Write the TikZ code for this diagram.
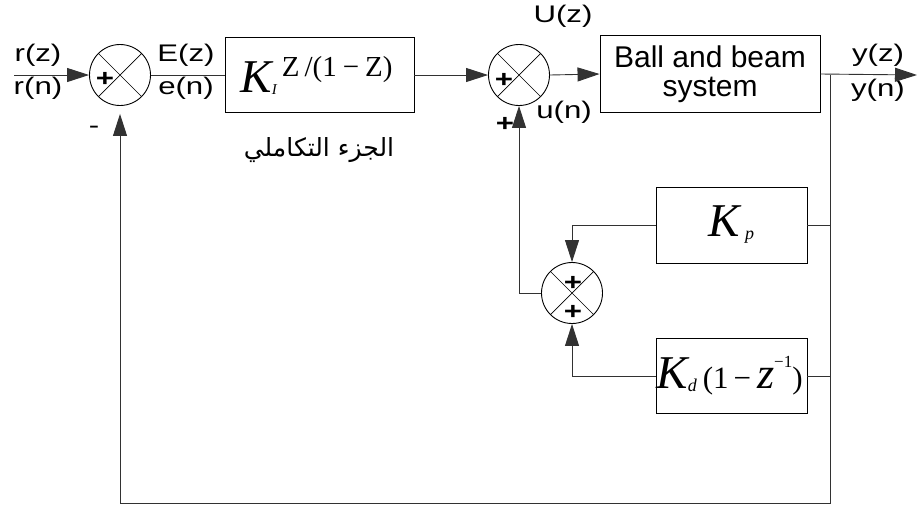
\documentclass[tikz,border=0pt]{standalone}
\usepackage{fontspec}
\setmainfont{Liberation Sans}
\newfontfamily\widefont[FakeStretch=1.3]{Liberation Sans}
\newfontfamily\timesfont{Liberation Serif}
\newfontfamily\arabicfont[Script=Arabic]{DejaVu Sans}
\TeXXeTstate=1
\usetikzlibrary{arrows.meta,positioning}
\definecolor{wiregray}{RGB}{50,50,50}
\newcommand{\bigsym}[2]{{\timesfont\fontsize{#1}{#1}\selectfont #2}}

\begin{document}
\begin{tikzpicture}[
    x=1pt,y=-1pt,
    line width=0.9pt,
    sumnode/.style={circle,draw,minimum size=61pt,inner sep=0pt,
      path picture={\draw[line width=0.7pt]
        (path picture bounding box.north west) -- (path picture bounding box.south east)
        (path picture bounding box.north east) -- (path picture bounding box.south west);}},
    blk/.style={rectangle,draw,inner sep=0pt},
    lbl/.style={inner sep=0pt,font=\widefont\fontsize{24}{24}\selectfont},
    pls/.style={inner sep=0pt,font=\widefont\bfseries\fontsize{24}{24}\selectfont},
    arrow/.style={draw=wiregray,-{Triangle[length=22pt,width=14pt]}},
    wire/.style={draw=wiregray}
  ]
    \useasboundingbox (0,0) rectangle (917,507);
    \node[sumnode] (sumE) at (120,75) {};
    \node[pls] (sumEplus) at (105,79) {+};
    \node[blk,minimum width=189pt,minimum height=75pt] (integ) at (319.5,75)
      {\hspace{-6pt}\bigsym{47}{\itshape K}\bigsym{15}{\itshape\raisebox{-2pt}{I}}\hspace{5pt}\bigsym{29}{\raisebox{16pt}{Z\hspace{5pt}/(1\hspace{6pt}−\hspace{6pt}Z)}}};
    \node[sumnode] (sumU) at (519,75) {};
    \node[pls] (sumUplus) at (504,80) {+};
    \node[blk,minimum width=220pt,minimum height=77pt,align=center,
      font=\fontsize{30}{29}\selectfont] (plant) at (710,74) {Ball and beam\\system};
    \node[blk,minimum width=151pt,minimum height=76pt] (kp) at (731.5,225)
      {\bigsym{47}{\itshape K}\hspace{5pt}\bigsym{18}{\itshape\raisebox{-3pt}{p}}\hspace{40pt}};
    \node[sumnode] (sumPD) at (572,293) {};
    \node[pls] (sumPDtop) at (573,283) {+};
    \node[pls] (sumPDbot) at (573,312) {+};
    \node[blk,minimum width=151pt,minimum height=75pt] (kd) at (731.5,376)
      {\hspace{-4pt}\bigsym{47}{\itshape K}\bigsym{18}{\itshape\raisebox{-3pt}{d}}\hspace{6pt}\bigsym{31}{(1\hspace{5pt}−\hspace{6pt}}\bigsym{44}{\itshape z}\bigsym{17}{\raisebox{21pt}{−1}}\bigsym{31}{)}\hspace{-8pt}};
    \node[lbl] (rz) at (38,55) {r(z)};
    \node[lbl] (rn) at (38,88) {r(n)};
    \node[lbl] (Ez) at (186,55) {E(z)};
    \node[lbl] (en) at (186,88) {e(n)};
    \node[lbl] (Uz) at (563,16) {U(z)};
    \node[lbl] (un) at (564,112) {u(n)};
    \node[lbl] (yz) at (878,55) {y(z)};
    \node[lbl] (yn) at (878,90) {y(n)};
    \node[pls] (fbplus) at (505,124) {+};
    \node[lbl] (fbminus) at (94,130) {-};
    \node[font=\arabicfont\fontsize{25}{25}\selectfont] (integname) at (319,150) {\beginR الجزء التكاملي\endR};
    \coordinate (rin) at (14,75);
    \coordinate (tap) at (830,75);
    \coordinate (yend) at (917,75);
    \coordinate (fbcorner) at (830,503);
    \draw[arrow] (rin) -- (sumE.west);
    \draw[wire] (sumE.east) -- (integ.west);
    \draw[arrow] (integ.east) -- (sumU.west);
    \draw[arrow] (sumU.east) -- (plant.west);
    \draw[arrow] (plant.east) -- (yend);
    \draw[arrow,shorten >=8pt] (tap) -- (fbcorner) -| (sumE.south);
    \draw[wire] (kp.east) -- (kp.east -| tap);
    \draw[wire] (kd.east) -- (kd.east -| tap);
    \draw[arrow] (kp.west) -| (sumPD.north);
    \draw[arrow] (kd.west) -| (sumPD.south);
    \draw[arrow] (sumPD.west) -| (sumU.south);
  \end{tikzpicture}
\end{document}
